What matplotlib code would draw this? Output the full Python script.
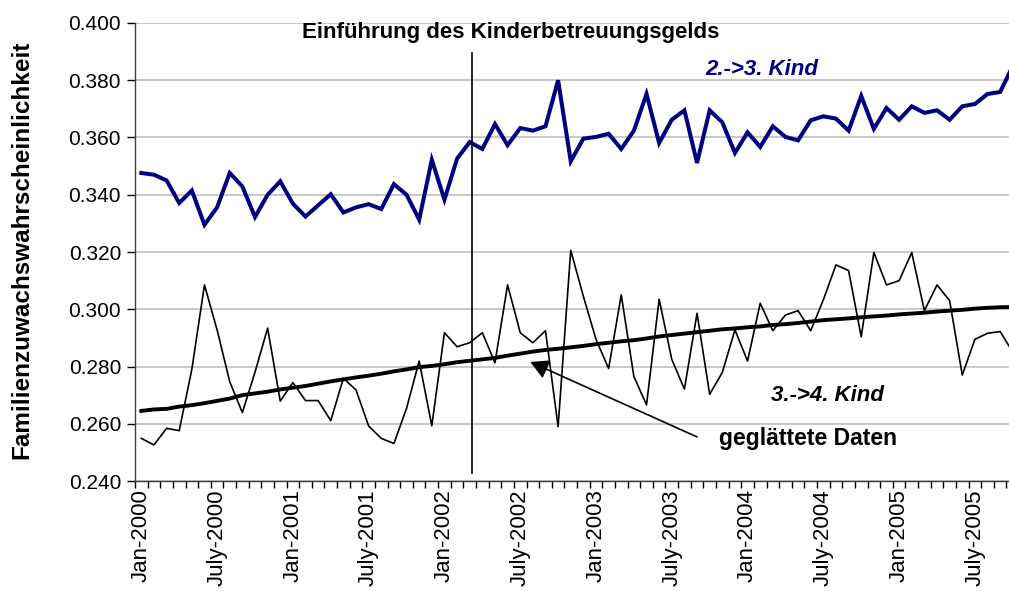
import matplotlib
matplotlib.use("Agg")
import matplotlib.pyplot as plt

# monthly values, Jan-2000 onwards (index 0 = Jan-2000)
kind_2_3 = [
    0.3476, 0.3470, 0.3450, 0.3371, 0.3415, 0.3295, 0.3356, 0.3476, 0.3429, 0.3322,
    0.3400, 0.3447, 0.3369, 0.3324, 0.3363, 0.3402, 0.3338, 0.3356, 0.3367, 0.3350,
    0.3437, 0.3400, 0.3313, 0.3522, 0.3383, 0.3526, 0.3584, 0.3560, 0.3647, 0.3573,
    0.3633, 0.3624, 0.3639, 0.3800, 0.3517, 0.3596, 0.3602, 0.3613, 0.3560, 0.3624,
    0.3752, 0.3581, 0.3662, 0.3695, 0.3511, 0.3695, 0.3653, 0.3546, 0.3618, 0.3567,
    0.3639, 0.3602, 0.3590, 0.3660, 0.3674, 0.3666, 0.3624, 0.3745, 0.3630, 0.3703,
    0.3662, 0.3709, 0.3686, 0.3695, 0.3662, 0.3709, 0.3717, 0.3752, 0.3759, 0.3850,
]

kind_3_4 = [
    0.2549, 0.2526, 0.2584, 0.2576, 0.2790, 0.3085, 0.2928, 0.2747, 0.2639, 0.2780,
    0.2934, 0.2679, 0.2744, 0.2681, 0.2681, 0.2611, 0.2759, 0.2718, 0.2592, 0.2549,
    0.2531, 0.2654, 0.2819, 0.2593, 0.2918, 0.2869, 0.2883, 0.2918, 0.2813, 0.3085,
    0.2918, 0.2883, 0.2925, 0.2590, 0.3206, 0.3045, 0.2895, 0.2793, 0.3050, 0.2765,
    0.2666, 0.3035, 0.2825, 0.2721, 0.2986, 0.2703, 0.2779, 0.2928, 0.2819, 0.3021,
    0.2925, 0.2980, 0.2995, 0.2925, 0.3033, 0.3155, 0.3135, 0.2904, 0.3198, 0.3085,
    0.3100, 0.3198, 0.2995, 0.3085, 0.3030, 0.2770, 0.2895, 0.2916, 0.2922, 0.2850,
]

smoothed = [
    0.2645, 0.2650, 0.2652, 0.2660, 0.2665, 0.2672, 0.2680, 0.2688, 0.2700, 0.2706,
    0.2712, 0.2720, 0.2726, 0.2732, 0.2740, 0.2748, 0.2755, 0.2762, 0.2768, 0.2775,
    0.2783, 0.2790, 0.2798, 0.2802, 0.2808, 0.2815, 0.2820, 0.2825, 0.2830, 0.2838,
    0.2845, 0.2852, 0.2858, 0.2862, 0.2867, 0.2872, 0.2878, 0.2883, 0.2888, 0.2892,
    0.2898, 0.2905, 0.2910, 0.2915, 0.2920, 0.2925, 0.2930, 0.2933, 0.2937, 0.2940,
    0.2945, 0.2948, 0.2952, 0.2957, 0.2962, 0.2965, 0.2968, 0.2972, 0.2975, 0.2978,
    0.2982, 0.2985, 0.2988, 0.2992, 0.2995, 0.2998, 0.3002, 0.3005, 0.3007, 0.3008,
]

tick_labels = [
    "Jan-2000", "July-2000", "Jan-2001", "July-2001", "Jan-2002", "July-2002",
    "Jan-2003", "July-2003", "Jan-2004", "July-2004", "Jan-2005", "July-2005",
]
y_ticks = [0.240, 0.260, 0.280, 0.300, 0.320, 0.340, 0.360, 0.380, 0.400]

plt.rcParams["font.family"] = ["Liberation Sans", "DejaVu Sans"]

months = list(range(len(kind_2_3)))

fig = plt.figure(figsize=(10.09, 5.91), dpi=100)
ax = fig.add_axes([0.1338, 0.1861, 0.8662, 0.7750])

ax.plot(months, kind_2_3, color="#000080", lw=2.9, solid_joinstyle="miter", zorder=4)
ax.plot(months, kind_3_4, color="black", lw=1.2, zorder=3)
ax.plot(months, smoothed, color="black", lw=2.8, zorder=4)

# introduction of Kinderbetreuungsgeld
ax.plot([26.2, 26.2], [0.2428, 0.3895], color="black", lw=1.2, zorder=5)
ax.text(29.25, 0.3966, "Einführung des Kinderbetreuungsgelds", ha="center", va="center",
        fontsize=16, fontweight="bold")

ax.text(49.1, 0.3836, "2.->3. Kind", ha="center", va="center", fontsize=16,
        fontweight="bold", style="italic", color="#000080")
ax.text(54.35, 0.2700, "3.->4. Kind", ha="center", va="center", fontsize=16,
        fontweight="bold", style="italic", color="black")
ax.text(52.77, 0.2550, "geglättete Daten", ha="center", va="center", fontsize=16.5,
        fontweight="bold")
ax.annotate("", xy=(30.8, 0.2816), xytext=(44.0, 0.2554),
            arrowprops=dict(arrowstyle="-|>,head_length=1.1,head_width=0.6",
                            color="black", lw=1.2, shrinkA=0, shrinkB=0))

ax.set_xlim(-0.42, 68.7)
ax.set_ylim(0.240, 0.400)
ax.set_yticks(y_ticks)
ax.set_yticklabels([f"{v:.3f}" for v in y_ticks], fontsize=15)
ax.set_xticks(range(0, 67, 6))
ax.set_xticklabels(tick_labels, rotation=90, fontsize=16)
ax.set_xticks([m + 0.5 for m in range(-1, 69)], minor=True)
ax.tick_params(axis="x", which="major", length=0, pad=6)
ax.tick_params(axis="x", which="minor", length=5, direction="out", width=1)
ax.tick_params(axis="y", length=6, direction="out", width=1, pad=4)

ax.grid(axis="y", color="#c0c0c0", lw=1.2)
ax.set_axisbelow(True)
for side in ["top", "right"]:
    ax.spines[side].set_visible(False)
for side in ["left", "bottom"]:
    ax.spines[side].set_color("#404040")
    ax.spines[side].set_linewidth(1.0)

fig.text(0.022, 0.577, "Familienzuwachswahrscheinlichkeit", rotation=90, ha="center",
         va="center", fontsize=17.5, fontweight="bold")

fig.savefig("out.png", dpi=100)
